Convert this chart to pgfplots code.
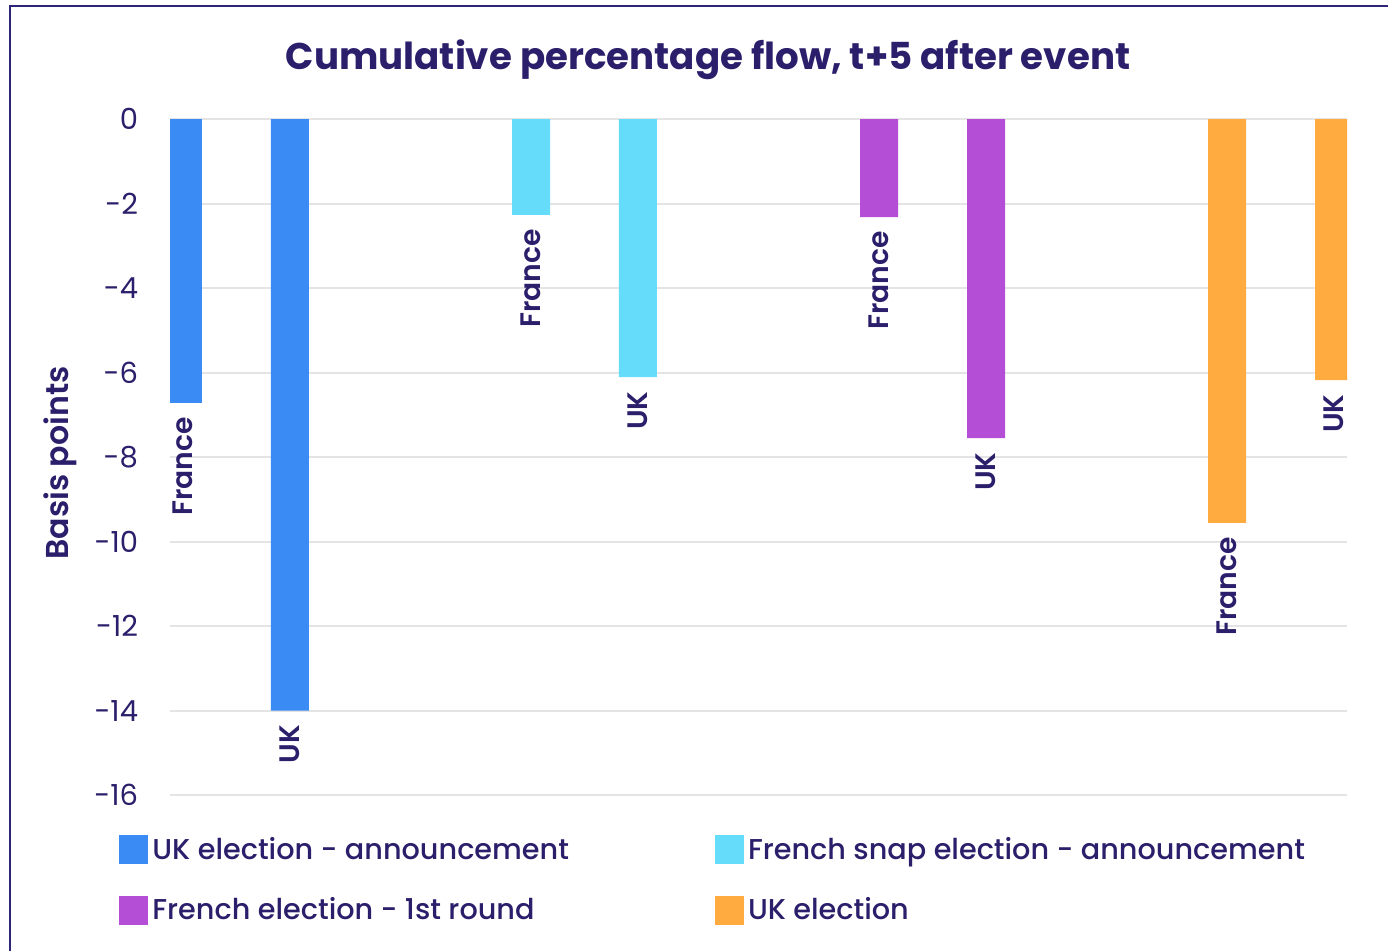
\documentclass[border=0pt]{standalone}
\usepackage{pgfplots}
\pgfplotsset{compat=1.18}
\usepackage{fontspec}
\setmainfont{Poppins}
\newfontfamily\psemi{Poppins SemiBold}
\newfontfamily\pmed{Poppins Medium}
\definecolor{navy}{HTML}{2B1F6B}
\definecolor{framec}{HTML}{2E2478}
\definecolor{gridc}{HTML}{E4E4E4}
\definecolor{cblue}{HTML}{3B8BF5}
\definecolor{ccyan}{HTML}{64DCFA}
\definecolor{cpurple}{HTML}{B44ED6}
\definecolor{corange}{HTML}{FFAB40}
\pgfplotsset{
  mybar/.style={ybar, bar width=19pt, bar shift=0pt, draw=none, fill=#1,
    legend image code/.code={\fill[fill=#1,draw=none] (0pt,-7.25pt) rectangle (14.5pt,7.25pt);},
    nodes near coords, point meta=explicit symbolic,
    every node near coord/.style={font=\fontsize{14.1}{16}\selectfont\psemi, text=navy,
      rotate=90, anchor=east, inner xsep=7pt, inner ysep=0pt}},
}
\begin{document}
\begin{tikzpicture}[x=1pt,y=1pt]
\useasboundingbox (0,0) rectangle (694,-475);
\draw[framec, line width=1.2pt] (5,-3) rectangle (760,-520);
\node[font=\fontsize{18.6}{22}\selectfont\bfseries, text=navy] at (354,-30) {Cumulative percentage flow, t+5 after event};
\node[font=\fontsize{15.8}{18}\selectfont\psemi, text=navy, rotate=90] at (30,-231.5) {Basis points};
\begin{axis}[
  at={(85pt,-397.5pt)}, anchor=south west, scale only axis,
  width=588.5pt, height=338pt,
  xmin=-0.191, xmax=3.191, ymin=-16, ymax=0,
  ytick={-16,-14,-12,-10,-8,-6,-4,-2,0},
  yticklabels={-16,-14,-12,-10,-8,-6,-4,-2,0},
  xtick=\empty,
  axis line style={draw=none}, major tick length=0pt,
  ymajorgrids, grid style={line width=1pt, color=gridc},
  y tick label style={font=\fontsize{14.5}{18}\selectfont, text=navy, inner sep=0pt, xshift=-15.8pt},
  legend columns=2,
  legend cell align=left,
  legend style={at={(axis description cs:-0.0433,-0.0592)}, anchor=north west,
    draw=none, fill=none, inner sep=0pt, row sep=15.5pt,
    font=\fontsize{14.35}{16}\selectfont\pmed, text=navy,
    nodes={inner xsep=2pt, inner ysep=1pt},
    /tikz/every even column/.append style={column sep=71pt}},
]
\addplot[mybar=cblue] coordinates {(-0.1537,-6.72) [France] (0.1537,-14.0) [UK]};
\addlegendentry{UK election - announcement}
\addplot[mybar=ccyan] coordinates {(0.8463,-2.27) [France] (1.1537,-6.11) [UK]};
\addlegendentry{French snap election - announcement}
\addplot[mybar=cpurple] coordinates {(1.8463,-2.32) [France] (2.1537,-7.55) [UK]};
\addlegendentry{French election - 1st round}
\addplot[mybar=corange] coordinates {(2.8463,-9.56) [France] (3.1537,-6.18) [UK]};
\addlegendentry{UK election}
\end{axis}
\end{tikzpicture}
\end{document}
